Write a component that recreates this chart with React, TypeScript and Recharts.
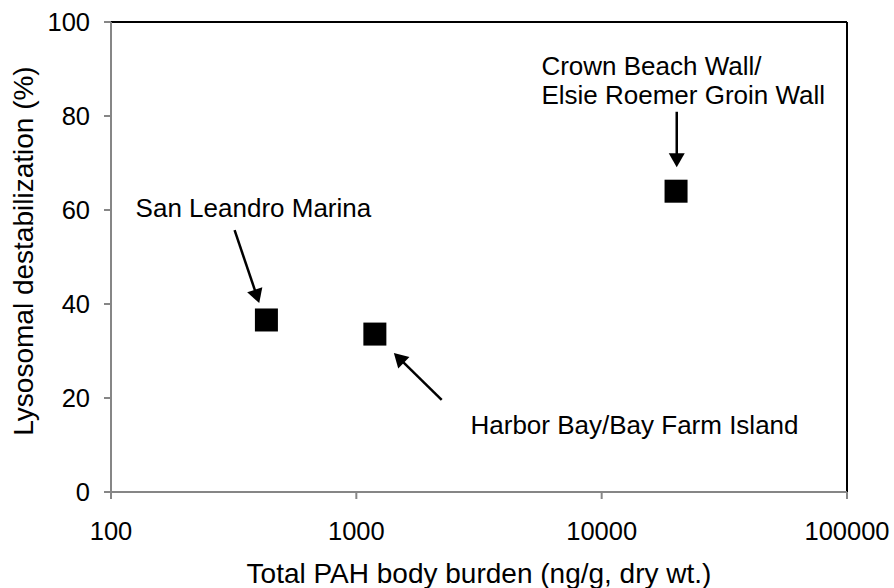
import React from 'react';
import {
  ScatterChart,
  Scatter,
  XAxis,
  YAxis,
  ReferenceLine,
  ReferenceDot,
  Label,
} from 'recharts';

const SITES = ['San Leandro Marina', 'Harbor Bay/Bay Farm Island', 'Crown Beach Wall/Elsie Roemer Groin Wall'];
const PAH_BURDEN = [430, 1190, 20100];
const LYSO_DESTAB = [36.6, 33.6, 64.0];

const X_TICKS = [100, 1000, 10000, 100000];
const Y_TICKS = [0, 20, 40, 60, 80, 100];

// annotation text: start point (data space), lines of text
const NOTE_LINES = [['San Leandro Marina'], ['Harbor Bay/Bay Farm Island'], ['Crown Beach Wall/', 'Elsie Roemer Groin Wall']];
const NOTE_X = [126, 2920, 5680];
const NOTE_Y = [58.5, 12.3, 88.7];

// arrows: tail -> head, data space
const ARROW_X1 = [319, 2228, 20230];
const ARROW_Y1 = [55.7, 19.6, 80.9];
const ARROW_X2 = [402, 1422, 20230];
const ARROW_Y2 = [40.2, 29.6, 69.1];

const FONT = '"Liberation Sans", Arial, sans-serif';
const AXIS_GRAY = '#868686';

const data = SITES.map((site, i) => ({ site, x: PAH_BURDEN[i], y: LYSO_DESTAB[i] }));

const SquareMarker = (props: any) => {
  const { cx, cy } = props;
  const s = 23;
  return <rect x={cx - s / 2} y={cy - s / 2} width={s} height={s} fill="#000" />;
};

const Arrow = (props: any) => {
  const { x1, y1, x2, y2 } = props;
  const dx = x2 - x1;
  const dy = y2 - y1;
  const len = Math.sqrt(dx * dx + dy * dy);
  const ux = dx / len;
  const uy = dy / len;
  const headLen = 14;
  const headW = 8;
  const bx = x2 - ux * headLen;
  const by = y2 - uy * headLen;
  const pts = [
    `${x2},${y2}`,
    `${bx - uy * headW},${by + ux * headW}`,
    `${bx + uy * headW},${by - ux * headW}`,
  ].join(' ');
  return (
    <g>
      <line x1={x1} y1={y1} x2={bx + ux * 2} y2={by + uy * 2} stroke="#000" strokeWidth={2.5} />
      <polygon points={pts} fill="#000" />
    </g>
  );
};

const NoteText = (lines: string[]) => (props: any) => {
  const { cx, cy } = props;
  return (
    <text x={cx} y={cy} fontFamily={FONT} fontSize={26} fill="#000">
      {lines.map((l, i) => (
        <tspan key={i} x={cx} dy={i === 0 ? 0 : 29}>
          {l}
        </tspan>
      ))}
    </text>
  );
};

export default function App() {
  return (
    <div style={{ position: 'absolute', left: 0, top: 0, background: '#fff' }}>
      <ScatterChart width={894} height={588} margin={{ top: 22, right: 47, bottom: 0, left: 0 }}>
        <XAxis
          type="number"
          dataKey="x"
          scale="log"
          domain={[100, 100000]}
          ticks={X_TICKS}
          allowDataOverflow
          height={96}
          stroke={AXIS_GRAY}
          strokeWidth={2}
          tickSize={7}
          tickMargin={23}
          tick={{ fill: '#000', fontSize: 25.5, fontFamily: FONT }}
          label={
            <Label
              content={({ viewBox }: any) => (
                <text
                  x={viewBox.x + viewBox.width / 2}
                  y={viewBox.y + viewBox.height - 5}
                  textAnchor="middle"
                  fontFamily={FONT}
                  fontSize={28}
                  fill="#000"
                >
                  Total PAH body burden (ng/g, dry wt.)
                </text>
              )}
            />
          }
        />
        <YAxis
          type="number"
          dataKey="y"
          domain={[0, 100]}
          ticks={Y_TICKS}
          width={111}
          stroke={AXIS_GRAY}
          strokeWidth={2}
          tickSize={7}
          tickMargin={14}
          tick={{ fill: '#000', fontSize: 25.5, fontFamily: FONT }}
          label={
            <Label
              content={({ viewBox }: any) => {
                const x = viewBox.x + 23;
                const y = viewBox.y + viewBox.height / 2 - 6;
                return (
                  <text
                    x={x}
                    y={y}
                    dy="0.355em"
                    transform={`rotate(-90, ${x}, ${y})`}
                    textAnchor="middle"
                    fontFamily={FONT}
                    fontSize={28}
                    fill="#000"
                  >
                    Lysosomal destabilization (%)
                  </text>
                );
              }}
            />
          }
        />
        <ReferenceLine y={100} stroke="#000" strokeWidth={2} />
        <ReferenceLine x={100000} stroke="#000" strokeWidth={2} />
        {ARROW_X1.map((x1, i) => (
          <ReferenceLine
            key={`arrow-${i}`}
            segment={[
              { x: x1, y: ARROW_Y1[i] },
              { x: ARROW_X2[i], y: ARROW_Y2[i] },
            ]}
            shape={Arrow}
          />
        ))}
        {NOTE_LINES.map((lines, i) => (
          <ReferenceDot
            key={`note-${i}`}
            x={NOTE_X[i]}
            y={NOTE_Y[i]}
            r={0}
            shape={NoteText(lines)}
          />
        ))}
        <Scatter data={data} shape={SquareMarker} isAnimationActive={false} />
      </ScatterChart>
    </div>
  );
}
